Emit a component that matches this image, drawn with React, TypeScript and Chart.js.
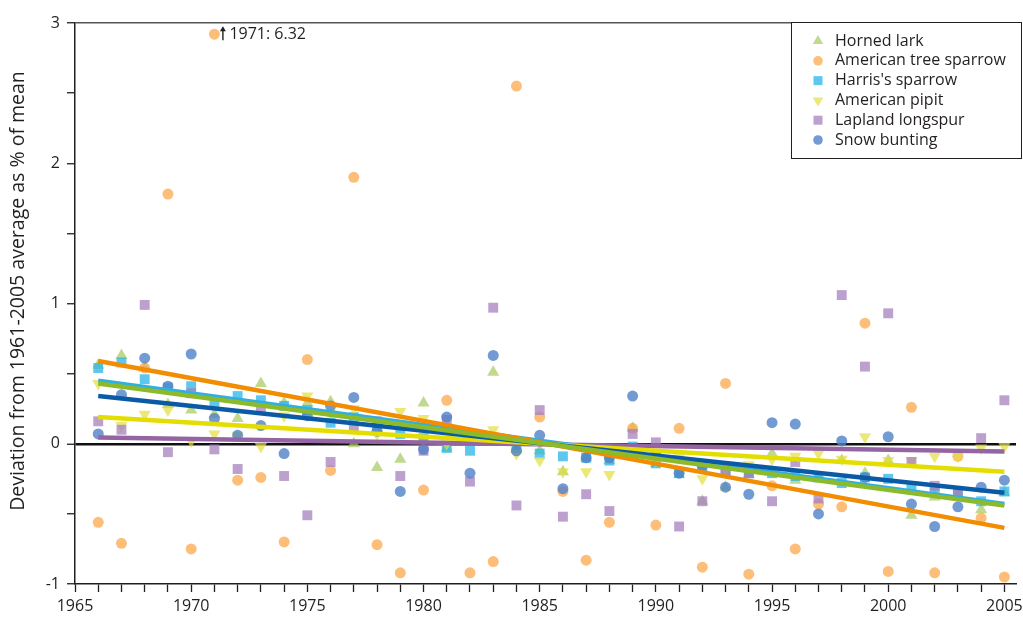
import React, { useEffect, useRef } from "react";
import { Chart, registerables } from "chart.js";

Chart.register(...registerables);

// ---------- data ----------
const years = [
  1966, 1967, 1968, 1969, 1970, 1971, 1972, 1973, 1974, 1975,
  1976, 1977, 1978, 1979, 1980, 1981, 1982, 1983, 1984, 1985,
  1986, 1987, 1988, 1989, 1990, 1991, 1992, 1993, 1994, 1995,
  1996, 1997, 1998, 1999, 2000, 2001, 2002, 2003, 2004, 2005,
];

const hornedLark = [
  0.56, 0.63, 0.54, 0.28, 0.24, 0.21, 0.18, 0.43, 0.29, 0.29,
  0.3, 0.0, -0.17, -0.11, 0.29, -0.03, 0.02, 0.51, -0.04, -0.05,
  -0.2, -0.1, -0.12, 0.11, -0.14, -0.22, -0.41, -0.31, -0.22, -0.07,
  -0.26, -0.24, -0.12, -0.21, -0.12, -0.51, -0.38, -0.36, -0.47, -0.35,
];

const treeSparrow = [
  -0.56, -0.71, 0.54, 1.78, -0.75, 6.32, -0.26, -0.24, -0.7, 0.6,
  -0.19, 1.9, -0.72, -0.92, -0.33, 0.31, -0.92, -0.84, 2.55, 0.19,
  -0.34, -0.83, -0.56, 0.11, -0.58, 0.11, -0.88, 0.43, -0.93, -0.3,
  -0.75, -0.43, -0.45, 0.86, -0.91, 0.26, -0.92, -0.09, -0.53, -0.95,
];

const harrisSparrow = [
  0.54, 0.58, 0.46, 0.4, 0.41, 0.29, 0.34, 0.31, 0.27, 0.24,
  0.15, 0.19, 0.1, 0.07, 0.04, -0.03, -0.05, 0.03, -0.03, -0.07,
  -0.09, -0.1, -0.12, -0.02, -0.14, -0.21, -0.16, -0.2, -0.21, -0.21,
  -0.23, -0.24, -0.28, -0.24, -0.25, -0.32, -0.34, -0.36, -0.41, -0.34,
];

const americanPipit = [
  0.43, 0.13, 0.21, 0.24, 0.02, 0.07, 0.06, -0.02, 0.2, 0.34,
  0.22, 0.25, 0.07, 0.23, 0.18, 0.0, 0.04, 0.1, -0.07, -0.12,
  -0.2, -0.2, -0.22, -0.04, -0.12, -0.1, -0.25, -0.18, -0.15, -0.11,
  -0.09, -0.07, -0.11, 0.05, -0.12, -0.12, -0.09, -0.09, -0.03, -0.02,
];

const laplandLongspur = [
  0.16, 0.1, 0.99, -0.06, 0.36, -0.04, -0.18, 0.26, -0.23, -0.51,
  -0.13, 0.12, 0.16, -0.23, -0.05, 0.17, -0.27, 0.97, -0.44, 0.24,
  -0.52, -0.36, -0.48, 0.07, 0.01, -0.59, -0.41, -0.19, -0.21, -0.41,
  -0.13, -0.39, 1.06, 0.55, 0.93, -0.13, -0.3, -0.36, 0.04, 0.31,
];

const snowBunting = [
  0.07, 0.35, 0.61, 0.41, 0.64, 0.18, 0.06, 0.13, -0.07, 0.2,
  0.27, 0.33, 0.09, -0.34, -0.04, 0.19, -0.21, 0.63, -0.05, 0.06,
  -0.32, -0.1, -0.1, 0.34, -0.08, -0.21, -0.16, -0.31, -0.36, 0.15,
  0.14, -0.5, 0.02, -0.24, 0.05, -0.43, -0.59, -0.45, -0.31, -0.26,
];

// trend lines: values at first and last year
const trendYears = [1966, 2005];
const hornedLarkTrend = [0.43, -0.44];
const treeSparrowTrend = [0.59, -0.6];
const harrisSparrowTrend = [0.45, -0.43];
const americanPipitTrend = [0.19, -0.2];
const laplandLongspurTrend = [0.045, -0.055];
const snowBuntingTrend = [0.34, -0.35];

const xTickLabels = [1965, 1970, 1975, 1980, 1985, 1990, 1995, 2000, 2005];
const yTickLabels = [-1, 0, 1, 2, 3];
const offscaleYear = 1971;
const offscaleText = "1971: 6.32";
const yTitle = "Deviation from 1961-2005 average as % of mean";

// ---------- styles ----------
const FONT = "'Open Sans', 'Noto Sans', sans-serif";
const INK = "#231f20";
const Y_MIN = -1;
const Y_MAX = 3;
const X_MIN = 1965;
const X_MAX = 2005.5;
const OFFSCALE_PLOT = 2.92;

type Species = {
  name: string;
  values: number[];
  trend: number[];
  style: string;
  rotation: number;
  radius: number;
  point: string;
  line: string;
};

const species: Species[] = [
  { name: "Horned lark", values: hornedLark, trend: hornedLarkTrend, style: "triangle", rotation: 0, radius: 7, point: "rgba(168,203,98,0.72)", line: "#8cba2a" },
  { name: "American tree sparrow", values: treeSparrow, trend: treeSparrowTrend, style: "circle", rotation: 0, radius: 5.5, point: "rgba(252,168,78,0.75)", line: "#f28c00" },
  { name: "Harris's sparrow", values: harrisSparrow, trend: harrisSparrowTrend, style: "rect", rotation: 0, radius: 7, point: "rgba(40,180,235,0.75)", line: "#2fb0e0" },
  { name: "American pipit", values: americanPipit, trend: americanPipitTrend, style: "triangle", rotation: 180, radius: 7, point: "rgba(226,222,62,0.7)", line: "#e3dd00" },
  { name: "Lapland longspur", values: laplandLongspur, trend: laplandLongspurTrend, style: "rect", rotation: 0, radius: 7, point: "rgba(165,128,190,0.75)", line: "#9564a3" },
  { name: "Snow bunting", values: snowBunting, trend: snowBuntingTrend, style: "circle", rotation: 0, radius: 5.5, point: "rgba(80,130,200,0.8)", line: "#0b5aa5" },
];

// drawing order of trend lines (first = on top)
const lineOrder = ["Horned lark", "American tree sparrow", "Snow bunting", "American pipit", "Harris's sparrow", "Lapland longspur"];

function drawMarker(ctx: CanvasRenderingContext2D, s: Species, x: number, y: number, r: number) {
  ctx.fillStyle = s.point;
  ctx.beginPath();
  if (s.style === "circle") {
    ctx.arc(x, y, r * 0.8, 0, Math.PI * 2);
  } else if (s.style === "rect") {
    const h = r * 0.75;
    ctx.rect(x - h, y - h, 2 * h, 2 * h);
  } else {
    const dir = s.rotation === 180 ? 1 : -1;
    ctx.moveTo(x, y + dir * r);
    ctx.lineTo(x - r * 0.87, y - dir * r * 0.5);
    ctx.lineTo(x + r * 0.87, y - dir * r * 0.5);
    ctx.closePath();
  }
  ctx.fill();
}

const overlayPlugin = {
  id: "overlay",
  afterDatasetsDraw(chart: any) {
    const ctx: CanvasRenderingContext2D = chart.ctx;
    const xs = chart.scales.x;
    const ys = chart.scales.y;
    ctx.save();
    // off-scale annotation
    const ax = xs.getPixelForValue(offscaleYear);
    const ay = ys.getPixelForValue(OFFSCALE_PLOT);
    ctx.strokeStyle = INK;
    ctx.fillStyle = INK;
    ctx.lineWidth = 1.4;
    const arX = ax + 8.5;
    ctx.beginPath();
    ctx.moveTo(arX, ay + 6);
    ctx.lineTo(arX, ay - 4);
    ctx.stroke();
    ctx.beginPath();
    ctx.moveTo(arX - 3, ay - 3);
    ctx.lineTo(arX, ay - 8);
    ctx.lineTo(arX + 3, ay - 3);
    ctx.closePath();
    ctx.fill();
    ctx.font = `16px ${FONT}`;
    ctx.textBaseline = "middle";
    ctx.textAlign = "left";
    ctx.fillText(offscaleText, ax + 15, ay + 0.5);

    // legend box
    const bx = 791.5, by = 22.5, bw = 230, bh = 136;
    ctx.fillStyle = "#ffffff";
    ctx.fillRect(bx, by, bw, bh);
    ctx.strokeStyle = INK;
    ctx.lineWidth = 1;
    ctx.strokeRect(bx, by, bw, bh);
    ctx.font = `16px ${FONT}`;
    species.forEach((s, i) => {
      const yy = 41 + i * 19.8;
      drawMarker(ctx, s, 818, yy, 6);
      ctx.fillStyle = INK;
      ctx.fillText(s.name, 835, yy);
    });

    // y axis title
    ctx.save();
    ctx.translate(18, 291);
    ctx.rotate(-Math.PI / 2);
    ctx.font = `19.5px ${FONT}`;
    ctx.textAlign = "center";
    ctx.textBaseline = "middle";
    ctx.fillStyle = INK;
    ctx.fillText(yTitle, 0, 0);
    ctx.restore();

    ctx.restore();
  },
};

export default function App() {
  const canvasRef = useRef<HTMLCanvasElement | null>(null);

  useEffect(() => {
    if (!canvasRef.current) return;

    const lineSets = lineOrder.map((nm) => {
      const s = species.find((q) => q.name === nm)!;
      return {
        label: s.name + " trend",
        data: trendYears.map((yr, i) => ({ x: yr, y: s.trend[i] })),
        showLine: true,
        borderColor: s.line,
        backgroundColor: s.line,
        borderWidth: 4.5,
        pointRadius: 0,
        fill: false,
      };
    });

    const pointSets = [...species].reverse().map((s) => ({
      label: s.name,
      data: years.map((yr, i) => ({ x: yr, y: s.values[i] > Y_MAX ? OFFSCALE_PLOT : s.values[i] })),
      showLine: false,
      pointStyle: s.style,
      rotation: s.rotation,
      pointRadius: s.radius,
      pointBackgroundColor: s.point,
      pointBorderWidth: 0,
      pointBorderColor: "rgba(0,0,0,0)",
    }));

    const allYearTicks: number[] = [];
    for (let v = X_MIN; v <= 2005; v++) allYearTicks.push(v);
    const halfTicks: number[] = [];
    for (let v = Y_MIN; v <= Y_MAX + 1e-9; v += 0.5) halfTicks.push(Math.round(v * 10) / 10);

    const chart = new Chart(canvasRef.current, {
      type: "scatter",
      data: { datasets: [...lineSets, ...pointSets] as any },
      options: {
        animation: false,
        responsive: true,
        maintainAspectRatio: false,
        layout: { padding: { top: 23, right: 0, left: 0, bottom: 0 } },
        plugins: {
          legend: { display: false },
          tooltip: { enabled: false },
        },
        scales: {
          x: {
            type: "linear",
            min: X_MIN,
            max: X_MAX,
            afterBuildTicks: (axis: any) => {
              axis.ticks = allYearTicks.map((v) => ({ value: v }));
            },
            afterFit: (axis: any) => {
              axis.height = 35;
              axis.paddingRight = 0;
              axis.paddingLeft = 0;
            },
            ticks: {
              autoSkip: false,
              maxRotation: 0,
              padding: 5,
              color: INK,
              font: { family: FONT, size: 16 },
              callback: (v: any) => (xTickLabels.includes(Number(v)) ? String(v) : ""),
            },
            grid: {
              drawOnChartArea: false,
              drawTicks: true,
              tickLength: 8,
              tickColor: INK,
              tickWidth: 1.3,
            },
            border: { display: true, color: INK, width: 1.5 },
          },
          y: {
            type: "linear",
            min: Y_MIN,
            max: Y_MAX,
            afterBuildTicks: (axis: any) => {
              axis.ticks = halfTicks.map((v) => ({ value: v }));
            },
            afterFit: (axis: any) => {
              axis.width = 75;
            },
            ticks: {
              autoSkip: false,
              padding: 7,
              color: INK,
              font: { family: FONT, size: 16 },
              callback: (v: any) => (yTickLabels.includes(Number(v)) ? String(v) : ""),
            },
            grid: {
              drawOnChartArea: true,
              drawTicks: true,
              tickLength: 8,
              tickColor: INK,
              tickWidth: 1.3,
              color: (c: any) =>
                c.tick && c.tick.value === 0 ? "#111111" : c.tick && c.tick.value === Y_MAX ? "#555555" : "rgba(0,0,0,0)",
              lineWidth: (c: any) => (c.tick && c.tick.value === 0 ? 2.5 : 1.5),
            },
            border: { display: true, color: INK, width: 1.5 },
            title: { display: false },
          },
        },
      },
      plugins: [overlayPlugin],
    });

    return () => chart.destroy();
  }, []);

  return (
    <div style={{ position: "fixed", left: 0, top: 0, width: 1023, height: 619, background: "#fff" }}>
      <canvas ref={canvasRef} />
    </div>
  );
}
